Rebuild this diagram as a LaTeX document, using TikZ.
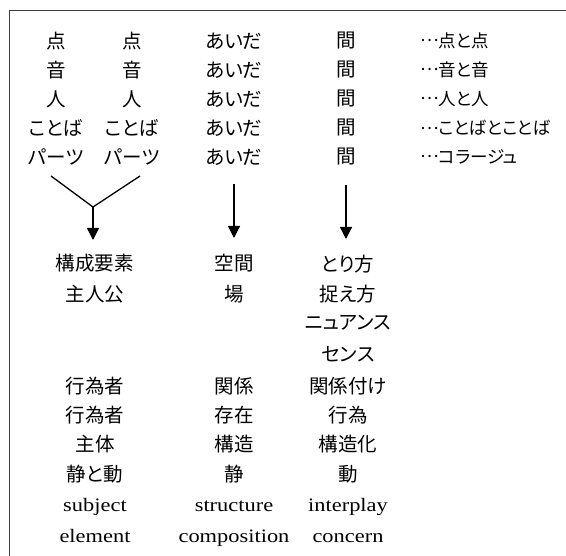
\documentclass[tikz,border=0pt]{standalone}
\usepackage{fontspec}
\newfontfamily\jp[RawFeature=+palt]{Noto Sans CJK JP}
\newfontfamily\en[FakeStretch=1.18]{Liberation Serif}
\newcommand{\dotsjp}{\raisebox{.33em}{…}}
\usetikzlibrary{arrows.meta}
\begin{document}
\begin{tikzpicture}[x=1pt,y=-1pt,
  jt/.style={inner sep=0pt, font=\jp\fontsize{19.5}{22}\selectfont},
  jtr/.style={inner sep=0pt, anchor=west, font=\jp\fontsize{17.5}{20}\selectfont},
  et/.style={inner sep=0pt, anchor=base, font=\en\fontsize{19}{21}\selectfont},
  conn/.style={line width=1.3pt},
  arr/.style={conn, -{Triangle[width=12pt,length=12pt]}},
  frame/.style={line width=1pt, black!75}]
\useasboundingbox (0,0) rectangle (566,556);
\draw[frame] (9,556) -- (9,11) -- (566,11);
% upper block
\foreach \w [count=\i] in {点,音,人,ことば,パーツ} {
  \pgfmathsetmacro\yy{12+29*\i}
  \node[jt] (L\i) at (56,\yy) {\w};
  \node[jt] (R\i) at (132,\yy) {\w};
  \node[jt] (A\i) at (234,\yy) {あいだ};
  \node[jt] (M\i) at (346,\yy) {間};
}
\node[jtr] (E1) at (420,41) {\dotsjp 点と点};
\node[jtr] (E2) at (420,70) {\dotsjp 音と音};
\node[jtr] (E3) at (420,99) {\dotsjp 人と人};
\node[jtr] (E4) at (420,128) {\dotsjp ことばとことば};
\node[jtr] (E5) at (420,157) {\dotsjp コラージュ};
% lower column A
\node[jt] (K1) at (95,263) {構成要素};
\node[jt] (K2) at (95,294) {主人公};
\node[jt] (K3) at (95,386) {行為者};
\node[jt] (K4) at (95,415) {行為者};
\node[jt] (K5) at (95,444) {主体};
\node[jt] (K6) at (95,474) {静と動};
\node[et] (K7) at (95,512) {subject};
\node[et] (K8) at (95,543) {element};
% lower column B
\node[jt] (B1) at (234,263) {空間};
\node[jt] (B2) at (234,294) {場};
\node[jt] (B3) at (234,386) {関係};
\node[jt] (B4) at (234,415) {存在};
\node[jt] (B5) at (234,444) {構造};
\node[jt] (B6) at (234,474) {静};
\node[et] (B7) at (234,512) {structure};
\node[et] (B8) at (234,543) {composition};
% lower column C
\node[jt] (C1) at (348,264) {とり方};
\node[jt] (C2) at (348,294) {捉え方};
\node[jt] (C3) at (348,323) {ニュアンス};
\node[jt] (C4) at (348,354) {センス};
\node[jt] (C5) at (348,386) {関係付け};
\node[jt] (C6) at (348,415) {行為};
\node[jt] (C7) at (348,444) {構造化};
\node[jt] (C8) at (348,474) {動};
\node[et] (C9) at (348,512) {interplay};
\node[et] (C10) at (348,543) {concern};
% connectors
\coordinate (v1) at (51,176);
\coordinate (v2) at (140,176);
\coordinate (vj) at (93,207);
\draw[conn] (v1) -- (vj) -- (v2);
\draw[arr, shorten >=23pt] (vj) -- (vj |- K1);
\draw[arr, shorten <=19pt, shorten >=25pt] (A5) -- (A5 |- B1);
\draw[arr, shorten <=19pt, shorten >=25pt] (M5) -- (M5 |- C1);
\end{tikzpicture}
\end{document}
